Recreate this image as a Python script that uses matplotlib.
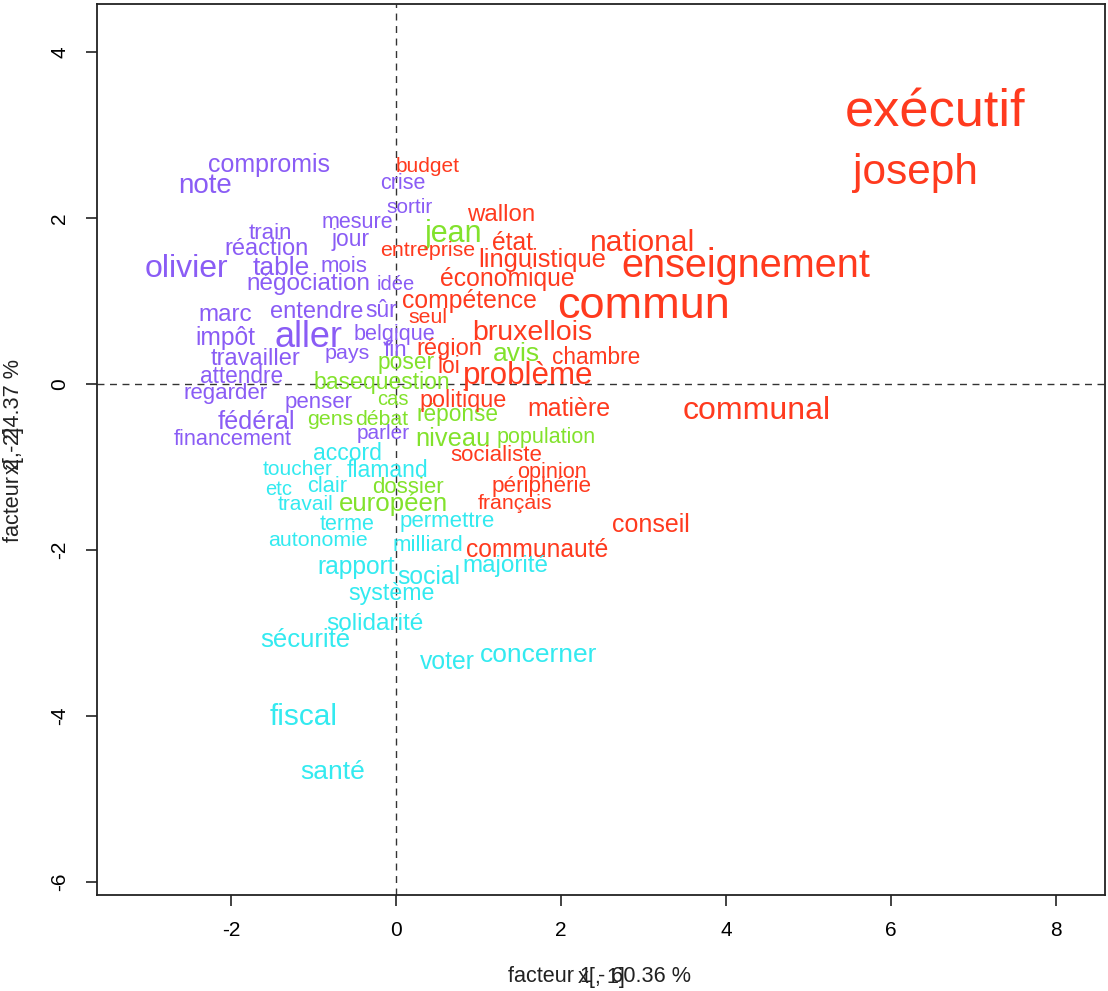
import matplotlib
matplotlib.use("Agg")
import matplotlib.pyplot as plt

plt.rcParams['font.family'] = ['Liberation Sans', 'DejaVu Sans']

# --- colours of the four classes ---
COLORS = {'r': '#FF3A1E', 'g': '#82E22C', 'c': '#33EAF0', 'p': '#8A5CF5'}

# --- words, coordinates (factor 1, factor 2), font size (pt) and class ---
words = ['compromis', 'note', 'crise', 'sortir', 'mesure', 'train', 'jour',
         'réaction', 'olivier', 'table', 'mois', 'négociation', 'idée', 'marc',
         'entendre', 'sûr', 'impôt', 'aller', 'belgique', 'pays', 'fin',
         'travailler', 'attendre', 'regarder', 'penser', 'fédéral', 'parler',
         'financement',
         'jean', 'poser', 'base', 'question', 'cas', 'gens', 'débat', 'réponse',
         'avis', 'niveau', 'population', 'dossier', 'européen',
         'budget', 'wallon', 'état', 'entreprise', 'linguistique', 'national',
         'économique', 'compétence', 'seul', 'enseignement', 'commun',
         'exécutif', 'joseph', 'bruxellois', 'région', 'loi', 'chambre',
         'problème', 'politique', 'matière', 'communal', 'socialiste',
         'opinion', 'périphérie', 'français', 'conseil', 'communauté',
         'accord', 'toucher', 'flamand', 'etc', 'clair', 'travail', 'terme',
         'permettre', 'autonomie', 'milliard', 'rapport', 'social', 'majorité',
         'système', 'solidarité', 'sécurité', 'voter', 'concerner', 'fiscal',
         'santé']

fx = [-1.539, -2.315, 0.079, 0.170, -0.467, -1.527, -0.545,
      -1.570, -2.545, -1.394, -0.636, -1.061, 0.000, -2.073,
      -0.958, -0.182, -2.073, -1.055, -0.024, -0.588, -0.006,
      -1.697, -1.873, -2.067, -0.933, -1.691, -0.152,
      -1.982,
      0.703, 0.127, -0.703, 0.127, -0.042, -0.800, -0.176, 0.745,
      1.461, 0.685, 1.824, 0.145, -0.030,
      0.382, 1.273, 1.412, 0.382, 1.776, 2.988,
      1.352, 0.891, 0.382, 4.242, 3.006,
      6.533, 6.297, 1.648, 0.648, 0.636, 2.424,
      1.600, 0.818, 2.091, 4.370, 1.212,
      1.891, 1.770, 1.448, 3.091, 1.709,
      -0.588, -1.194, -0.109, -1.424, -0.836, -1.097, -0.588,
      0.618, -0.945, 0.382, -0.485, 0.394, 1.321,
      -0.048, -0.255, -1.103, 0.624, 1.727, -1.115,
      -0.770]

fy = [2.663, 2.422, 2.446, 2.145, 1.976, 1.843, 1.771,
      1.651, 1.422, 1.422, 1.446, 1.229, 1.217, 0.867,
      0.892, 0.916, 0.590, 0.614, 0.627, 0.386, 0.434,
      0.337, 0.120, -0.084, -0.193, -0.434, -0.578,
      -0.639,
      1.855, 0.289, 0.048, 0.048, -0.157, -0.398, -0.398, -0.337,
      0.386, -0.627, -0.614, -1.217, -1.410,
      2.639, 2.060, 1.723, 1.627, 1.518, 1.735,
      1.289, 1.024, 0.819, 1.470, 0.988,
      3.325, 2.602, 0.651, 0.446, 0.241, 0.349,
      0.133, -0.169, -0.277, -0.289, -0.831,
      -1.036, -1.205, -1.422, -1.663, -1.976,
      -0.807, -1.012, -1.012, -1.253, -1.205, -1.434, -1.663,
      -1.627, -1.867, -1.916, -2.181, -2.301, -2.169,
      -2.494, -2.867, -3.060, -3.325, -3.241, -3.976,
      -4.639]

sizes = [18, 20, 15.5, 15, 15.5, 16, 16.5,
         17, 23, 19, 16, 17.5, 14.5, 17.5,
         17, 16.5, 17.7, 26, 15.6, 15.4, 16,
         17, 16.3, 16, 16, 18.2, 15,
         15.7,
         22, 16.4, 16.5, 16.5, 14.5, 15.4, 15.3, 16.3,
         19, 18.3, 15.5, 16, 18.6,
         15, 17.3, 17.7, 15.4, 18.3, 21.6,
         17.8, 17.8, 15.3, 28.5, 32.5,
         37.7, 30.5, 20.5, 17, 16.5, 16.3,
         22.5, 16.8, 18, 23, 16,
         15.6, 16.2, 15.4, 18, 17.7,
         16.5, 15, 16.6, 14.5, 15.7, 15, 15.5,
         16, 15.4, 16, 17.7, 17.8, 17.5,
         16.7, 17.6, 18.5, 17.8, 19, 21.5,
         19]

classes = ['p'] * 28 + ['g'] * 13 + ['r'] * 27 + ['c'] * 20

xticks = [-2, 0, 2, 4, 6, 8]
yticks = [-6, -4, -2, 0, 2, 4]

W, H = 1108, 991
fig = plt.figure(figsize=(W / 100, H / 100), dpi=100)
ax = fig.add_axes([97 / W, 1 - 895 / H, (1105 - 97) / W, (895 - 4) / H])

ax.set_xlim(-3.624, 8.594)
ax.set_ylim(-6.157, 4.578)

ax.axhline(0, color='#333333', lw=1.0, ls=(0, (5, 4)))
ax.axvline(0, color='#333333', lw=1.0, ls=(0, (5, 4)))

for w, x, y, s, c in zip(words, fx, fy, sizes, classes):
    ax.text(x, y, w, ha='center', va='center_baseline', fontsize=s,
            color=COLORS[c])

ax.set_xticks(xticks)
ax.set_yticks(yticks)
ax.set_xticklabels([str(t) for t in xticks])
ax.set_yticklabels([str(t) for t in yticks], rotation=90, va='center')
ax.tick_params(axis='both', labelsize=15, length=8, width=1.2, color='#222222')
ax.tick_params(axis='x', pad=11)
ax.tick_params(axis='y', pad=12)
for sp in ax.spines.values():
    sp.set_linewidth(1.3)
    sp.set_color('#222222')

# R overlays the default axis names with the custom ones
fig.text(600 / W, 1 - 977 / H, 'facteur 1 - 60.36 %', ha='center', va='center',
         fontsize=15.6, color='#222222')
fig.text(601 / W, 1 - 977 / H, 'x[, 1]', ha='center', va='center',
         fontsize=15.6, color='#222222')
fig.text(14 / W, 1 - 450 / H, 'facteur 2 - 24.37 %', ha='center', va='center',
         fontsize=15.6, color='#222222', rotation=90)
fig.text(14 / W, 1 - 451 / H, 'x[, 2]', ha='center', va='center',
         fontsize=15.6, color='#222222', rotation=90)

fig.savefig('out.png', dpi=100)
